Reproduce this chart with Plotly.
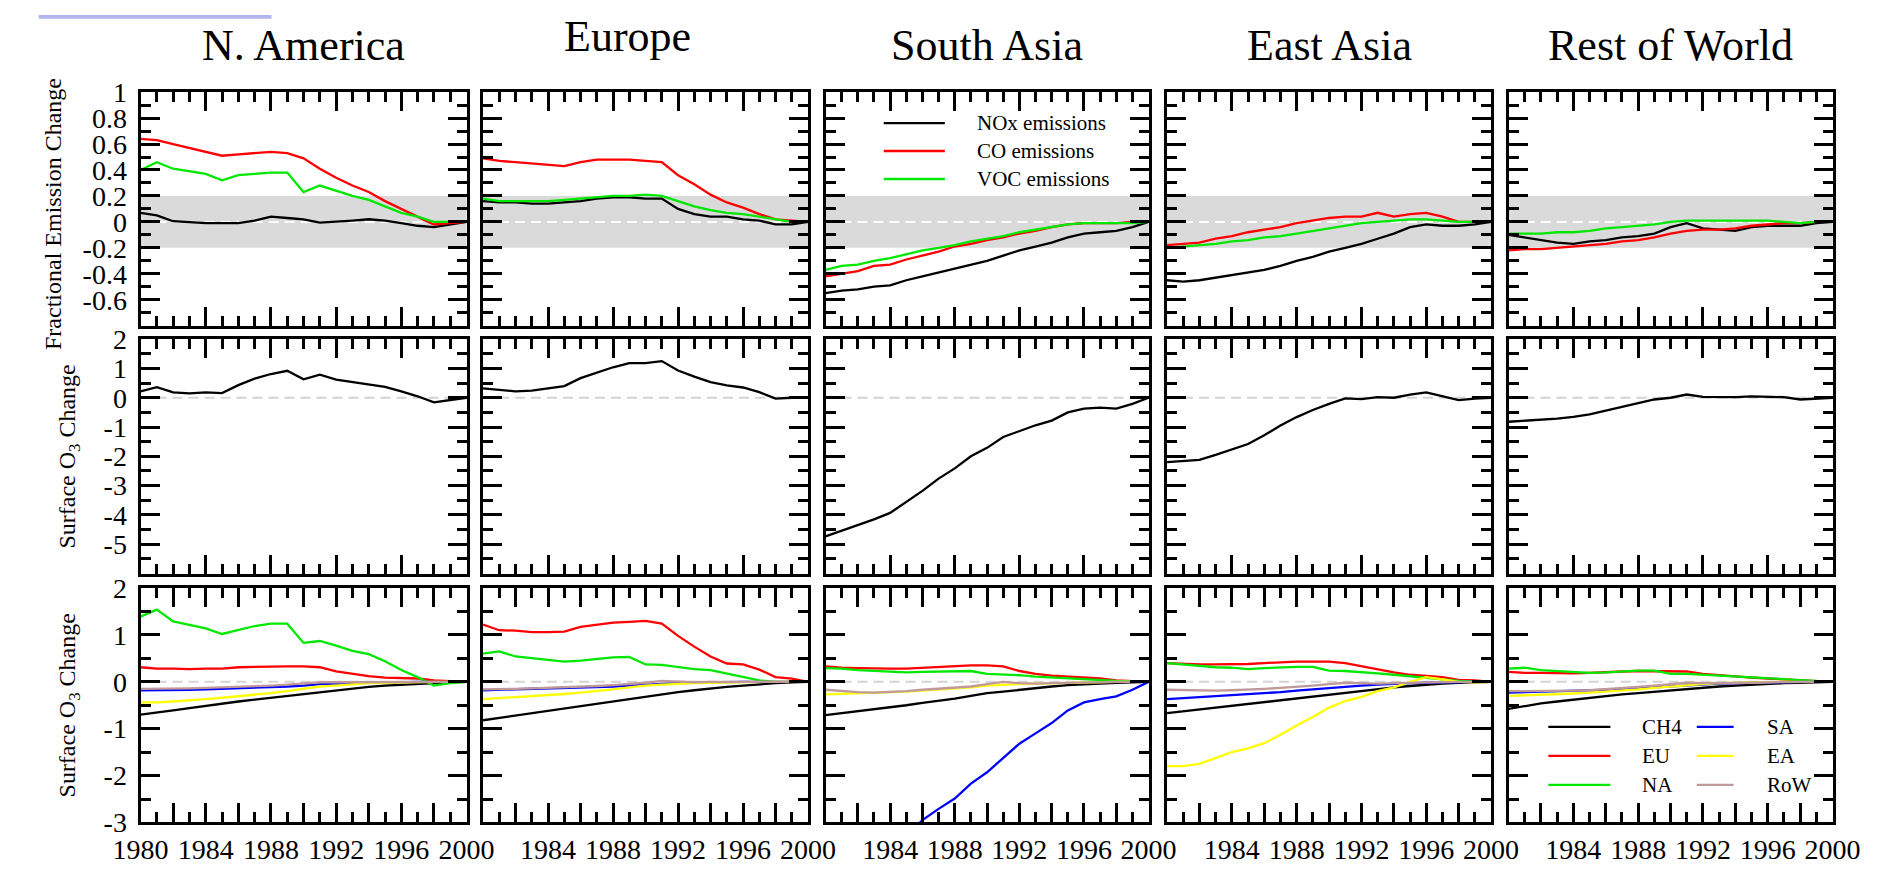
import plotly.graph_objects as go

W, H = 1880, 878
years = list(range(1980, 2001))
regions = ["N. America", "Europe", "South Asia", "East Asia", "Rest of World"]

# ---------------- Row 1: fractional emission change ----------------
na_nox = [0.07, 0.05, 0.005, -0.005, -0.01, -0.01, -0.01, 0.01, 0.04, 0.03, 0.02, -0.005, 0.0, 0.01, 0.02, 0.01, -0.01, -0.03, -0.04, -0.02, 0.0]
na_co = [0.64, 0.63, 0.60, 0.57, 0.54, 0.51, 0.52, 0.53, 0.54, 0.53, 0.49, 0.41, 0.34, 0.28, 0.23, 0.16, 0.10, 0.04, -0.02, -0.01, 0.0]
na_voc = [0.40, 0.46, 0.41, 0.39, 0.37, 0.32, 0.36, 0.37, 0.38, 0.38, 0.23, 0.28, 0.24, 0.20, 0.17, 0.12, 0.07, 0.04, 0.0, 0.0, 0.0]

eu_nox = [0.16, 0.15, 0.15, 0.14, 0.14, 0.15, 0.16, 0.18, 0.19, 0.19, 0.18, 0.18, 0.10, 0.06, 0.04, 0.04, 0.02, 0.01, -0.02, -0.02, 0.0]
eu_co = [0.49, 0.47, 0.46, 0.45, 0.44, 0.43, 0.46, 0.48, 0.48, 0.48, 0.47, 0.46, 0.36, 0.29, 0.21, 0.15, 0.11, 0.06, 0.02, 0.01, 0.0]
eu_voc = [0.18, 0.16, 0.16, 0.16, 0.16, 0.17, 0.18, 0.19, 0.20, 0.20, 0.21, 0.20, 0.16, 0.12, 0.09, 0.07, 0.06, 0.04, 0.02, 0.0, 0.0]

sa_nox = [-0.55, -0.53, -0.52, -0.50, -0.49, -0.45, -0.42, -0.39, -0.36, -0.33, -0.30, -0.26, -0.22, -0.19, -0.16, -0.12, -0.09, -0.08, -0.07, -0.04, 0.0]
sa_co = [-0.42, -0.40, -0.38, -0.34, -0.33, -0.29, -0.26, -0.23, -0.19, -0.17, -0.14, -0.12, -0.09, -0.07, -0.04, -0.02, -0.01, -0.01, -0.01, 0.0, 0.0]
sa_voc = [-0.37, -0.34, -0.33, -0.30, -0.28, -0.25, -0.22, -0.20, -0.18, -0.15, -0.13, -0.11, -0.08, -0.06, -0.04, -0.02, -0.01, -0.01, -0.01, -0.01, 0.0]

ea_nox = [-0.45, -0.46, -0.45, -0.43, -0.41, -0.39, -0.37, -0.34, -0.30, -0.27, -0.23, -0.20, -0.17, -0.13, -0.09, -0.04, -0.02, -0.03, -0.03, -0.02, 0.0]
ea_co = [-0.18, -0.17, -0.16, -0.13, -0.11, -0.08, -0.06, -0.04, -0.01, 0.01, 0.03, 0.04, 0.04, 0.07, 0.04, 0.06, 0.07, 0.04, 0.0, 0.0, 0.0]
ea_voc = [-0.20, -0.19, -0.18, -0.17, -0.15, -0.14, -0.12, -0.11, -0.09, -0.07, -0.05, -0.03, -0.01, 0.0, 0.01, 0.02, 0.02, 0.01, 0.0, 0.0, 0.0]

row_nox = [-0.10, -0.12, -0.14, -0.16, -0.17, -0.15, -0.14, -0.12, -0.11, -0.09, -0.04, -0.01, -0.05, -0.06, -0.07, -0.04, -0.03, -0.03, -0.03, -0.01, 0.0]
row_co = [-0.22, -0.21, -0.21, -0.20, -0.19, -0.18, -0.17, -0.15, -0.14, -0.12, -0.09, -0.07, -0.06, -0.06, -0.05, -0.03, -0.02, -0.01, -0.01, 0.0, 0.0]
row_voc = [-0.09, -0.09, -0.09, -0.08, -0.08, -0.07, -0.05, -0.04, -0.03, -0.02, 0.0, 0.01, 0.01, 0.01, 0.01, 0.01, 0.01, 0.0, -0.01, 0.0, 0.0]

# ---------------- Row 2: total surface O3 change ----------------
na_o3 = [0.22, 0.36, 0.18, 0.15, 0.18, 0.16, 0.43, 0.65, 0.81, 0.92, 0.63, 0.79, 0.62, 0.54, 0.45, 0.37, 0.22, 0.05, -0.16, -0.09, 0.0]
eu_o3 = [0.32, 0.27, 0.22, 0.24, 0.32, 0.40, 0.67, 0.86, 1.04, 1.18, 1.18, 1.25, 0.93, 0.72, 0.53, 0.42, 0.35, 0.19, -0.03, 0.0, 0.0]
sa_o3 = [-4.73, -4.54, -4.35, -4.15, -3.93, -3.57, -3.18, -2.76, -2.41, -2.00, -1.71, -1.34, -1.15, -0.94, -0.78, -0.50, -0.37, -0.34, -0.37, -0.21, 0.0]
ea_o3 = [-2.20, -2.15, -2.12, -1.95, -1.76, -1.58, -1.28, -0.95, -0.66, -0.42, -0.21, -0.02, -0.05, 0.02, 0.0, 0.11, 0.18, 0.06, -0.08, -0.03, 0.0]
row_o3 = [-0.82, -0.78, -0.76, -0.71, -0.65, -0.57, -0.44, -0.31, -0.18, -0.06, 0.0, 0.11, 0.03, 0.02, 0.02, 0.05, 0.03, 0.02, -0.06, -0.02, 0.0]

# ---------------- Row 3: surface O3 change by source ----------------
na_ch4 = [-0.70, -0.66, -0.61, -0.56, -0.51, -0.46, -0.42, -0.38, -0.34, -0.30, -0.26, -0.22, -0.18, -0.14, -0.11, -0.08, -0.06, -0.04, -0.02, -0.01, 0.0]
na_eu = [0.31, 0.28, 0.28, 0.27, 0.28, 0.28, 0.31, 0.32, 0.33, 0.33, 0.33, 0.31, 0.22, 0.17, 0.12, 0.09, 0.08, 0.07, 0.03, 0.01, 0.0]
na_na = [1.39, 1.54, 1.29, 1.21, 1.14, 1.02, 1.11, 1.19, 1.24, 1.24, 0.83, 0.87, 0.77, 0.66, 0.59, 0.44, 0.25, 0.10, -0.08, -0.03, 0.0]
na_sa = [-0.18, -0.18, -0.17, -0.17, -0.16, -0.15, -0.14, -0.13, -0.12, -0.10, -0.08, -0.05, -0.04, -0.03, -0.02, -0.01, -0.01, 0.0, 0.0, 0.0, 0.0]
na_ea = [-0.44, -0.44, -0.42, -0.40, -0.37, -0.34, -0.31, -0.28, -0.24, -0.20, -0.15, -0.10, -0.08, -0.05, -0.03, -0.02, -0.01, 0.0, 0.0, 0.0, 0.0]
na_row = [-0.15, -0.15, -0.14, -0.14, -0.13, -0.12, -0.11, -0.10, -0.08, -0.06, -0.03, -0.01, -0.01, -0.01, 0.0, 0.0, 0.0, 0.0, 0.0, 0.0, 0.0]

eu_ch4 = [-0.82, -0.77, -0.72, -0.66, -0.61, -0.56, -0.51, -0.46, -0.41, -0.36, -0.31, -0.27, -0.22, -0.18, -0.14, -0.11, -0.08, -0.05, -0.03, -0.01, 0.0]
eu_eu = [1.22, 1.10, 1.09, 1.06, 1.06, 1.07, 1.17, 1.22, 1.26, 1.28, 1.30, 1.24, 0.98, 0.75, 0.54, 0.39, 0.37, 0.26, 0.10, 0.07, 0.0]
eu_na = [0.60, 0.65, 0.54, 0.50, 0.47, 0.43, 0.45, 0.49, 0.52, 0.53, 0.37, 0.36, 0.32, 0.27, 0.25, 0.18, 0.11, 0.03, 0.0, 0.0, 0.0]
eu_sa = [-0.18, -0.17, -0.16, -0.16, -0.15, -0.14, -0.13, -0.12, -0.10, -0.08, -0.06, -0.04, -0.03, -0.02, -0.01, -0.01, 0.0, 0.0, 0.0, 0.0, 0.0]
eu_ea = [-0.37, -0.35, -0.33, -0.31, -0.29, -0.26, -0.23, -0.20, -0.16, -0.12, -0.08, -0.06, -0.04, -0.03, -0.02, -0.01, 0.0, 0.0, 0.0, 0.0, 0.0]
eu_row = [-0.16, -0.16, -0.15, -0.14, -0.13, -0.12, -0.11, -0.09, -0.07, -0.05, -0.02, 0.02, 0.0, -0.01, 0.0, 0.0, 0.0, 0.0, 0.0, 0.0, 0.0]

sa_ch4 = [-0.71, -0.67, -0.62, -0.58, -0.54, -0.50, -0.45, -0.41, -0.36, -0.30, -0.24, -0.21, -0.17, -0.13, -0.10, -0.07, -0.05, -0.03, -0.02, -0.01, 0.0]
sa_eu = [0.33, 0.30, 0.29, 0.28, 0.28, 0.28, 0.30, 0.32, 0.33, 0.35, 0.35, 0.33, 0.23, 0.17, 0.13, 0.11, 0.10, 0.07, 0.03, 0.01, 0.0]
sa_na = [0.29, 0.28, 0.25, 0.23, 0.22, 0.20, 0.21, 0.22, 0.23, 0.23, 0.17, 0.16, 0.14, 0.11, 0.09, 0.07, 0.06, 0.04, 0.02, 0.01, 0.0]
sa_sa = [-4.6, -4.4, -4.2, -3.9, -3.6, -3.3, -2.95, -2.71, -2.49, -2.17, -1.93, -1.63, -1.32, -1.10, -0.88, -0.61, -0.44, -0.37, -0.31, -0.17, 0.0]
sa_ea = [-0.27, -0.26, -0.25, -0.24, -0.23, -0.21, -0.19, -0.17, -0.15, -0.12, -0.08, -0.06, -0.05, -0.04, -0.03, -0.02, -0.01, 0.0, 0.0, 0.0, 0.0]
sa_row = [-0.17, -0.20, -0.22, -0.23, -0.22, -0.20, -0.17, -0.15, -0.13, -0.10, -0.05, 0.0, -0.03, -0.04, -0.03, -0.02, -0.01, 0.0, 0.0, 0.0, 0.0]

ea_ch4 = [-0.67, -0.63, -0.59, -0.55, -0.51, -0.47, -0.43, -0.39, -0.35, -0.31, -0.27, -0.23, -0.19, -0.15, -0.12, -0.09, -0.06, -0.04, -0.02, -0.01, 0.0]
ea_eu = [0.40, 0.38, 0.37, 0.37, 0.37, 0.38, 0.40, 0.42, 0.43, 0.43, 0.43, 0.40, 0.33, 0.27, 0.20, 0.15, 0.12, 0.10, 0.04, 0.03, 0.0]
ea_na = [0.40, 0.37, 0.33, 0.31, 0.30, 0.27, 0.29, 0.31, 0.32, 0.32, 0.24, 0.23, 0.21, 0.18, 0.15, 0.12, 0.09, 0.05, 0.02, 0.01, 0.0]
ea_sa = [-0.37, -0.35, -0.33, -0.31, -0.29, -0.27, -0.25, -0.22, -0.19, -0.16, -0.13, -0.10, -0.08, -0.06, -0.04, -0.03, -0.02, -0.01, 0.0, 0.0, 0.0]
ea_ea = [-1.80, -1.80, -1.75, -1.63, -1.50, -1.42, -1.31, -1.13, -0.93, -0.75, -0.55, -0.41, -0.32, -0.20, -0.12, 0.0, 0.10, 0.05, 0.0, -0.01, 0.0]
ea_row = [-0.17, -0.18, -0.19, -0.19, -0.18, -0.17, -0.15, -0.13, -0.11, -0.08, -0.05, -0.02, -0.03, -0.04, -0.03, -0.02, -0.01, 0.0, 0.0, 0.0, 0.0]

row_ch4 = [-0.58, -0.52, -0.46, -0.42, -0.38, -0.34, -0.30, -0.27, -0.24, -0.21, -0.18, -0.15, -0.12, -0.10, -0.08, -0.06, -0.04, -0.03, -0.02, -0.01, 0.0]
row_eu = [0.21, 0.19, 0.19, 0.18, 0.18, 0.19, 0.21, 0.22, 0.23, 0.23, 0.23, 0.22, 0.17, 0.14, 0.11, 0.09, 0.07, 0.05, 0.03, 0.01, 0.0]
row_na = [0.28, 0.30, 0.25, 0.23, 0.21, 0.19, 0.20, 0.22, 0.24, 0.24, 0.17, 0.17, 0.15, 0.13, 0.11, 0.09, 0.07, 0.05, 0.03, 0.01, 0.0]
row_sa = [-0.23, -0.22, -0.21, -0.21, -0.20, -0.19, -0.18, -0.16, -0.14, -0.12, -0.10, -0.07, -0.05, -0.04, -0.03, -0.02, -0.01, 0.0, 0.0, 0.0, 0.0]
row_ea = [-0.30, -0.29, -0.28, -0.26, -0.25, -0.23, -0.21, -0.19, -0.16, -0.13, -0.10, -0.07, -0.05, -0.03, -0.02, -0.01, 0.0, 0.0, 0.0, 0.0, 0.0]
row_row = [-0.20, -0.20, -0.20, -0.20, -0.19, -0.18, -0.16, -0.14, -0.11, -0.08, -0.05, -0.02, -0.03, -0.03, -0.02, -0.02, -0.01, -0.01, 0.0, 0.0, 0.0]

emission_labels = ["NOx emissions", "CO emissions", "VOC emissions"]
source_labels = ["CH4", "EU", "NA", "SA", "EA", "RoW"]

x_tickvals_first = list(range(1980, 2001, 2))
x_ticktext_first = ["1980", "", "1984", "", "1988", "", "1992", "", "1996", "", "2000"]
x_tickvals_other = list(range(1982, 2001, 2))
x_ticktext_other = ["", "1984", "", "1988", "", "1992", "", "1996", "", "2000"]
y1_tickvals = [-0.6, -0.4, -0.2, 0, 0.2, 0.4, 0.6, 0.8, 1]
y1_ticktext = ["-0.6", "-0.4", "-0.2", "0", "0.2", "0.4", "0.6", "0.8", "1"]
y2_tickvals = [-5, -4, -3, -2, -1, 0, 1, 2]
y2_ticktext = ["-5", "-4", "-3", "-2", "-1", "0", "1", "2"]
y3_tickvals = [-3, -2, -1, 0, 1, 2]
y3_ticktext = ["-3", "-2", "-1", "0", "1", "2"]

# ---------------- styling / layout ----------------
FONT = "Liberation Serif"
emis_colors = ["#000000", "#ff0000", "#00e800"]
src_colors = ["#000000", "#ff0000", "#00e800", "#0000ff", "#ffff00", "#c09a9a"]

col_px = [(116, 452), (469, 804), (822, 1155), (1174, 1508), (1526, 1860)]
row_px = [(80, 322), (336, 579), (594, 837)]
y_ranges = [[-0.8, 1.0], [-6, 2], [-3, 2]]
y_minor = [0.1, 0.5, 0.5]
y_ticks = [(y1_tickvals, y1_ticktext), (y2_tickvals, y2_ticktext), (y3_tickvals, y3_ticktext)]


def fx(p):
    return p / W


def fy(p):
    return 1 - p / H


emis_data = [(na_nox, na_co, na_voc), (eu_nox, eu_co, eu_voc), (sa_nox, sa_co, sa_voc),
             (ea_nox, ea_co, ea_voc), (row_nox, row_co, row_voc)]
o3_data = [na_o3, eu_o3, sa_o3, ea_o3, row_o3]
src_data = [(na_ch4, na_eu, na_na, na_sa, na_ea, na_row),
            (eu_ch4, eu_eu, eu_na, eu_sa, eu_ea, eu_row),
            (sa_ch4, sa_eu, sa_na, sa_sa, sa_ea, sa_row),
            (ea_ch4, ea_eu, ea_na, ea_sa, ea_ea, ea_row),
            (row_ch4, row_eu, row_na, row_sa, row_ea, row_row)]

fig = go.Figure()
layout = dict(
    autosize=True, margin=dict(l=0, r=0, t=0, b=0, pad=0),
    paper_bgcolor="white", plot_bgcolor="white", showlegend=False,
    font=dict(family=FONT, color="black"),
)
shapes = []
annotations = []

tickfont = dict(family=FONT, size=28, color="black")

for r in range(3):
    for c in range(5):
        idx = r * 5 + c + 1
        sfx = "" if idx == 1 else str(idx)
        xa, ya = "x" + sfx, "y" + sfx
        layout["xaxis" + sfx] = dict(
            domain=[fx(col_px[c][0]), fx(col_px[c][1])], anchor=ya, range=[1980, 2000],
            showline=True, linecolor="black", linewidth=3, mirror="ticks",
            ticks="inside", ticklen=19, tickwidth=2.5, tickcolor="black",
            tickmode="array",
            tickvals=x_tickvals_first if c == 0 else x_tickvals_other,
            ticktext=x_ticktext_first if c == 0 else x_ticktext_other,
            showticklabels=(r == 2), tickfont=tickfont,
            minor=dict(tickmode="linear", tick0=1980, dtick=1, ticks="inside",
                       ticklen=10, tickwidth=2.5, tickcolor="black"),
            showgrid=False, zeroline=False, fixedrange=True,
        )
        tv, tt = y_ticks[r]
        layout["yaxis" + sfx] = dict(
            domain=[fy(row_px[r][1]), fy(row_px[r][0])], anchor=xa, range=y_ranges[r],
            showline=True, linecolor="black", linewidth=3, mirror="ticks",
            ticks="inside", ticklen=19, tickwidth=2.5, tickcolor="black",
            tickmode="array", tickvals=tv, ticktext=tt,
            showticklabels=(c == 0), tickfont=tickfont, ticklabelstandoff=5,
            minor=dict(tickmode="linear", tick0=0, dtick=y_minor[r], ticks="inside",
                       ticklen=10, tickwidth=2.5, tickcolor="black"),
            showgrid=False, zeroline=False, fixedrange=True,
        )

        if r == 0:
            shapes.append(dict(type="rect", xref=xa + " domain", yref=ya, x0=0, x1=1,
                               y0=-0.2, y1=0.2, fillcolor="#dadada", line=dict(width=0),
                               layer="below"))
            shapes.append(dict(type="line", xref=xa + " domain", yref=ya, x0=0, x1=1,
                               y0=0, y1=0, line=dict(color="white", width=2, dash="10px,6px"),
                               layer="below"))
        else:
            shapes.append(dict(type="line", xref=xa + " domain", yref=ya, x0=0, x1=1,
                               y0=0, y1=0, line=dict(color="#d4d4d4", width=2, dash="10px,6px"),
                               layer="below"))

        if r == 0:
            series = list(zip(emis_data[c], emis_colors, emission_labels))
        elif r == 1:
            series = [(o3_data[c], "#000000", "O3")]
        else:
            series = list(zip(src_data[c], src_colors, source_labels))
        for vals, colr, name in series:
            fig.add_trace(go.Scatter(x=years, y=vals, xaxis=xa, yaxis=ya, mode="lines",
                                     name=name, line=dict(color=colr, width=2.3),
                                     hoverinfo="skip", showlegend=False))

# ---------------- column titles ----------------
title_y = [32, 22, 32, 32, 32]
for c, name in enumerate(regions):
    cx = (col_px[c][0] + col_px[c][1]) / 2
    if c == 1:
        cx = 618
    annotations.append(dict(text=name, xref="paper", yref="paper", x=fx(cx), y=fy(title_y[c]),
                            xanchor="center", yanchor="middle", showarrow=False,
                            font=dict(family=FONT, size=44, color="black")))

# ---------------- y-axis titles ----------------
annotations.append(dict(text="Fractional Emission Change", xref="paper", yref="paper",
                        x=fx(25), y=fy(206), xanchor="center", yanchor="middle",
                        textangle=-90, showarrow=False,
                        font=dict(family=FONT, size=24, color="black")))
for yc in (458, 716):
    annotations.append(dict(text="Surface O<sub>3</sub> Change", xref="paper", yref="paper",
                            x=fx(42), y=fy(yc), xanchor="center", yanchor="middle",
                            textangle=-90, showarrow=False,
                            font=dict(family=FONT, size=24, color="black")))

# ---------------- legend: emissions (South Asia, row 1) ----------------
for i, (lab, colr) in enumerate(zip(emission_labels, emis_colors)):
    yy = [112, 141, 170][i]
    shapes.append(dict(type="line", xref="paper", yref="paper", x0=fx(882), x1=fx(945),
                       y0=fy(yy), y1=fy(yy), line=dict(color=colr, width=2.3)))
    annotations.append(dict(text=lab, xref="paper", yref="paper", x=fx(976), y=fy(yy),
                            xanchor="left", yanchor="middle", showarrow=False,
                            font=dict(family=FONT, size=21, color="black")))

# ---------------- legend: sources (Rest of World, row 3) ----------------
for i, (lab, colr) in enumerate(zip(source_labels, src_colors)):
    col = i // 3
    yy = [738, 768, 798][i % 3]
    lx0, lx1, tx = [(1567, 1631, 1662), (1720, 1758, 1790)][col]
    shapes.append(dict(type="line", xref="paper", yref="paper", x0=fx(lx0), x1=fx(lx1),
                       y0=fy(yy), y1=fy(yy), line=dict(color=colr, width=2.3)))
    annotations.append(dict(text=lab, xref="paper", yref="paper", x=fx(tx), y=fy(yy),
                            xanchor="left", yanchor="middle", showarrow=False,
                            font=dict(family=FONT, size=21, color="black")))

# highlight bar at top-left
shapes.append(dict(type="rect", xref="paper", yref="paper", x0=fx(11), x1=fx(251),
                   y0=fy(4), y1=fy(0), fillcolor="#b4b4ec", line=dict(width=0)))

layout["shapes"] = shapes
layout["annotations"] = annotations
fig.update_layout(**layout)

post = (
    "var st=document.createElement('style');"
    "st.innerHTML='html,body{margin:0;padding:0;overflow:hidden;width:100%;height:100%;}';"
    "document.head.appendChild(st);"
    "var gd=document.getElementById('{plot_id}');"
    "gd.style.width='100vw';gd.style.height='100vh';"
    "Plotly.Plots.resize(gd);"
)
fig.write_html("out.html", config={"displayModeBar": False, "responsive": True},
               default_width="100vw", default_height="100vh", post_script=post)
